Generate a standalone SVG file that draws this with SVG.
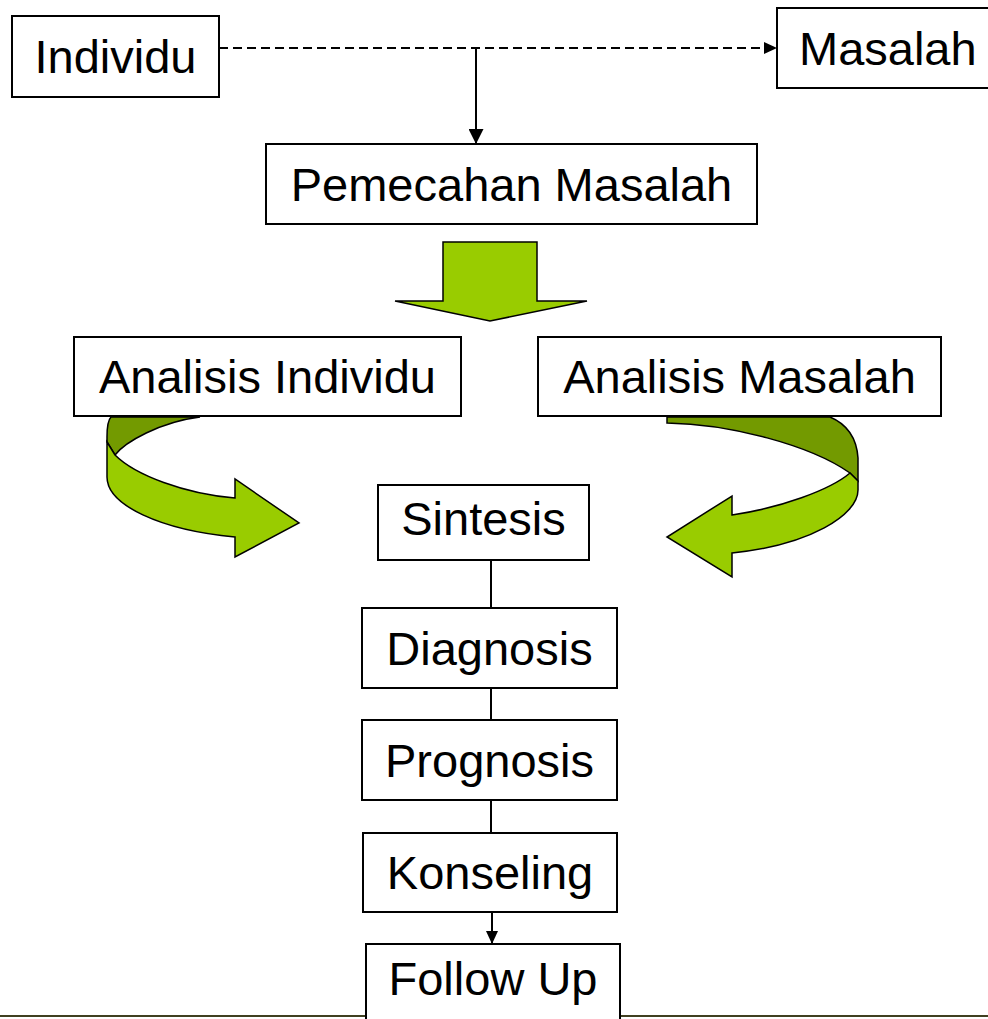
<svg xmlns="http://www.w3.org/2000/svg" width="988" height="1019" viewBox="0 0 988 1019">
<style>
.box{fill:#fff;stroke:#000;stroke-width:2}
.t{font-family:"Liberation Sans",Arial,sans-serif;font-size:47px;fill:#000;text-anchor:middle}
.c{stroke:#000;stroke-width:2;fill:none}
.lt{fill:#99CC00;stroke:#000;stroke-width:1.5;stroke-linejoin:miter}
.dk{fill:#739A00;stroke:#000;stroke-width:1.5}
</style>
<defs>
<marker id="ah" markerUnits="userSpaceOnUse" markerWidth="15" markerHeight="15" refX="15" refY="7.5" orient="auto"><path d="M0,0 L15,7.5 L0,15 z" fill="#000"/></marker>
<marker id="ahs" markerUnits="userSpaceOnUse" markerWidth="13" markerHeight="12" refX="13" refY="6" orient="auto"><path d="M0,0 L13,6 L0,12 z" fill="#000"/></marker>
</defs>
<line x1="0" y1="1016" x2="988" y2="1016" stroke="#404020" stroke-width="2"/>
<g id="connectors">
<line class="c" x1="219" y1="48" x2="777" y2="48" stroke-dasharray="9,5" marker-end="url(#ahs)"/>
<line class="c" x1="476" y1="48" x2="476" y2="144" marker-end="url(#ah)"/>
<line class="c" x1="491" y1="560" x2="491" y2="608"/>
<line class="c" x1="491" y1="688" x2="491" y2="720"/>
<line class="c" x1="491" y1="800" x2="491" y2="833"/>
<line class="c" x1="492" y1="912" x2="492" y2="944" marker-end="url(#ahs)"/>
<polygon id="bigarrow" class="lt" points="443,242 537,242 537,301 587,301 490,321 395,301 443,301"/>
<g id="curveLeft">
<path class="dk" d="M111,417 Q107,421 107,437 L107,442 L115,455 C125,442 160,422 200,417 Z"/>
<path class="lt" d="M107,442 L107,477 C107,505 160,530 235,537 L235,557 L299,523 L235,479 L235,498 C185,494 135,475 115,455 Z"/>
</g>
<g id="curveRight">
<path class="dk" d="M667,417 L667,423 C730,424 810,445 850,473 L858,481 L858,458 Q856,428 830,417 Z"/>
<path class="lt" d="M850,473 L858,481 L858,490 C858,515 810,545 732,553 L732,577 L667,537 L732,496 L732,515 C780,508 830,490 850,473 Z"/>
</g>
</g>
<g id="individu"><rect class="box" x="12" y="16" width="207" height="81"/><text class="t" x="115.5" y="73">Individu</text></g>
<g id="masalah"><rect class="box" x="777" y="8" width="225" height="80"/><text class="t" x="799" y="65" style="text-anchor:start">Masalah</text></g>
<g id="pemecahan"><rect class="box" x="266" y="144" width="491" height="80"/><text class="t" x="511.5" y="201">Pemecahan Masalah</text></g>
<g id="analisisIndividu"><rect class="box" x="74" y="337" width="387" height="79"/><text class="t" x="267.5" y="393">Analisis Individu</text></g>
<g id="analisisMasalah"><rect class="box" x="538" y="337" width="403" height="79"/><text class="t" x="739.5" y="393">Analisis Masalah</text></g>
<g id="sintesis"><rect class="box" x="378" y="485" width="211" height="75"/><text class="t" x="483.5" y="535">Sintesis</text></g>
<g id="diagnosis"><rect class="box" x="362" y="608" width="255" height="80"/><text class="t" x="489.5" y="665">Diagnosis</text></g>
<g id="prognosis"><rect class="box" x="362" y="720" width="255" height="80"/><text class="t" x="489.5" y="777">Prognosis</text></g>
<g id="konseling"><rect class="box" x="363" y="833" width="254" height="79"/><text class="t" x="490" y="889">Konseling</text></g>
<g id="followup"><rect class="box" x="366" y="944" width="254" height="90"/><text class="t" x="493" y="995">Follow Up</text></g>
</svg>
